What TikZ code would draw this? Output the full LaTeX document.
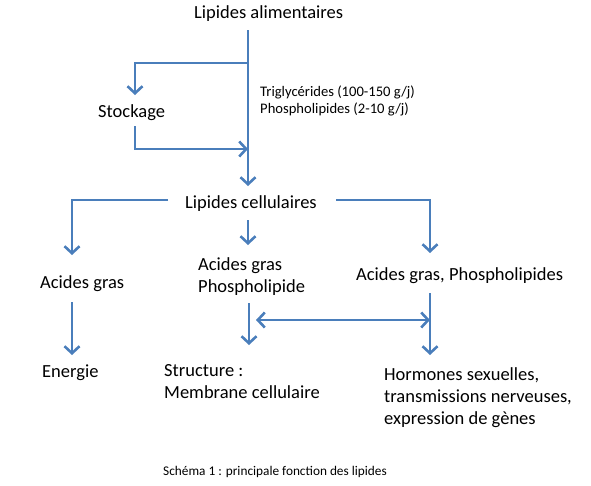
\documentclass[tikz,border=0pt]{standalone}
\usepackage{fontspec}
\setmainfont{Carlito}
\usetikzlibrary{arrows.meta}
\definecolor{lineblue}{RGB}{74,126,187}
\begin{document}
\begin{tikzpicture}[x=1pt,y=-1pt,
  lbl/.style={anchor=base west,inner sep=0pt,align=left,font=\fontsize{18.5}{22}\selectfont},
  note/.style={anchor=base west,inner sep=0pt,align=left,font=\fontsize{14.6}{17}\selectfont},
  ar/.style={draw=lineblue,line width=2.6pt,-{Straight Barb[length=7pt,width=15pt]}},
  dar/.style={draw=lineblue,line width=2.6pt,{Straight Barb[length=7pt,width=15pt]}-{Straight Barb[length=7pt,width=15pt]}}]
\useasboundingbox (0,0) rectangle (591,485);
% texts
\node[lbl] (alim) at (194,18) {Lipides alimentaires};
\node[lbl] (stock) at (98,117) {Stockage};
\node[note] (trig) at (260,113) {Triglycérides (100-150 g/j)\\Phospholipides (2-10 g/j)};
\node[lbl] (cell) at (185,208) {Lipides cellulaires};
\node[lbl] (agl) at (40,288) {Acides gras};
\node[lbl] (agc) at (198,292) {Acides gras\\Phospholipide};
\node[lbl] (agr) at (356,280) {Acides gras, Phospholipides};
\node[lbl] (ener) at (42,377) {Energie};
\node[lbl] (struct) at (164,398) {Structure :\\Membrane cellulaire};
\node[lbl] (horm) at (384,424) {Hormones sexuelles,\\transmissions nerveuses,\\expression de gènes};
\node[anchor=base west,inner sep=0pt,font=\fontsize{13.3}{15}\selectfont] (cap) at (163,475) {Schéma 1 : principale fonction des lipides};
% connector ends
\coordinate (spine) at (248,30);
\coordinate (fork) at (248,63);
\coordinate (stockin) at (135,95);
\coordinate (stockout) at (135,126);
\coordinate (back) at (248,149);
\coordinate (cellin) at (248,186);
\coordinate (cl) at (168,200);
\coordinate (cm) at (248,220);
\coordinate (cr) at (336,200);
\coordinate (aglin) at (72,255);
\coordinate (agcin) at (248,245);
\coordinate (agrin) at (430,253);
\coordinate (aglout) at (72,302);
\coordinate (agcout) at (249,303);
\coordinate (agrout) at (430,293);
\coordinate (enerin) at (72,355);
\coordinate (structin) at (249,345);
\coordinate (hormin) at (430,355);
\coordinate (linkl) at (256,320);
\coordinate (linkr) at (430,320);
% arrows
\draw[ar] (spine) -- (cellin);
\draw[ar] (fork) -| (stockin);
\draw[ar] (stockout) |- (back);
\draw[ar] (cl) -| (aglin);
\draw[ar] (cm) -- (agcin);
\draw[ar] (cr) -| (agrin);
\draw[ar] (aglout) -- (enerin);
\draw[ar] (agcout) -- (structin);
\draw[ar] (agrout) -- (hormin);
\draw[dar] (linkl) -- (linkr);
\end{tikzpicture}
\end{document}
